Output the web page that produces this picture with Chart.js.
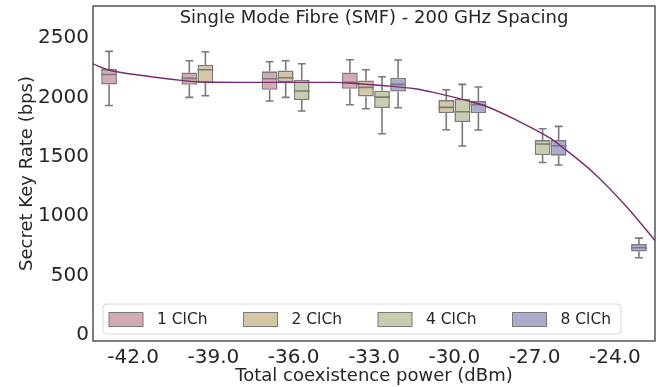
<!DOCTYPE html>
<html>
<head>
<meta charset="utf-8">
<script src="https://cdn.jsdelivr.net/npm/chart.js@4.4.0/dist/chart.umd.min.js"></script>
<style>
  body { margin: 0; background: #fff; }
</style>
</head>
<body>
<canvas id="skrChart" width="662" height="387"></canvas>
<script>
// x categories: total coexistence power (dBm)
var powers = [-42, -39, -36, -33, -30, -27, -24];
var yTicks = [0, 500, 1000, 1500, 2000, 2500];

// box stats per power: [whisker low, q1, median, q3, whisker high]
var clch1 = [
        [1933, 2110, 2194, 2239, 2388],
        [2001, 2107, 2161, 2211, 2309],
        [1970, 2065, 2158, 2220, 2301],
        [1939, 2073, 2127, 2211, 2318],
        null, null, null
];
var clch2 = [
        null,
        [2014, 2121, 2233, 2275, 2385],
        [2001, 2130, 2166, 2228, 2309],
        [1905, 2009, 2085, 2143, 2233],
        [1728, 1869, 1917, 1978, 2065],
        null, null
];
var clch4 = [
        null, null,
        [1886, 1978, 2054, 2149, 2284],
        [1694, 1911, 2003, 2057, 2175],
        [1591, 1793, 1880, 1989, 2110],
        [1453, 1515, 1608, 1641, 1737],
        null
];
var clch8 = [
        null, null, null,
        [1913, 2051, 2110, 2166, 2315],
        [1726, 1869, 1939, 1970, 2088],
        [1431, 1510, 1594, 1641, 1757],
        [651, 704, 735, 766, 816]
];

// fitted curve (x in category-index units)
var fitX = [-0.5, -0.3, 0.14, 0.6, 0.89, 1.39, 2.48, 2.8, 3.14, 3.51, 3.74, 4.16, 4.41, 4.79, 5.2, 5.33, 5.74, 6.16, 6.5];
var fitY = [2283, 2231, 2183, 2144, 2130, 2127, 2127, 2116, 2099, 2073, 2043, 1973, 1922, 1804, 1655, 1590, 1363, 1070, 795];

var seriesNames = ['1 ClCh', '2 ClCh', '4 ClCh', '8 ClCh'];
var seriesStats = [clch1, clch2, clch4, clch8];
var seriesColors = ['#d5a9b1', '#d5c6a6', '#c7cead', '#aaabcf'];

var inkColor = '#262626';
var edgeColor = '#7a7a7a';
var fontFamily = "'DejaVu Sans', sans-serif";

// seaborn-like dodge: 4 hues share 0.8 of each category slot
var hueWidth = 0.8 / seriesNames.length;

function boxPoints(stats, hue) {
        var pts = [];
        stats.forEach(function (s, k) {
                if (!s) return;
                pts.push({ x: k - 0.4 + hueWidth * (hue + 0.5), y: [s[1], s[3]], stats: s });
        });
        return pts;
}

var datasets = seriesNames.map(function (name, i) {
        return {
                type: 'bar',
                label: name,
                data: boxPoints(seriesStats[i], i),
                backgroundColor: seriesColors[i],
                borderColor: edgeColor,
                borderWidth: 1.6,
                borderSkipped: false,
                grouped: false,
                barPercentage: 0.98,
                categoryPercentage: 1
        };
});

datasets.push({
        type: 'line',
        label: 'fit',
        data: fitX.map((x, i) => ({ x: x, y: fitY[i] })),
        borderColor: '#7b2a6e',
        borderWidth: 1.4,
        pointRadius: 0,
        fill: false,
        cubicInterpolationMode: 'monotone',
        order: -1
});

// whiskers, caps and medians on each box
var boxWhiskers = {
        id: 'boxWhiskers',
        afterDatasetDraw: function (chart, args) {
                var ds = chart.data.datasets[args.index];
                if (ds.type !== 'bar') return;
                var y = chart.scales.y;
                var ctx = chart.ctx;
                ctx.save();
                ctx.strokeStyle = edgeColor;
                ctx.lineWidth = 1.6;
                args.meta.data.forEach(function (bar, j) {
                        var s = ds.data[j].stats;
                        var half = bar.width / 2, cap = bar.width / 4;
                        var lo = y.getPixelForValue(s[0]), q1 = y.getPixelForValue(s[1]);
                        var med = y.getPixelForValue(s[2]), q3 = y.getPixelForValue(s[3]);
                        var hi = y.getPixelForValue(s[4]);
                        ctx.beginPath();
                        ctx.moveTo(bar.x, q1); ctx.lineTo(bar.x, lo);
                        ctx.moveTo(bar.x - cap, lo); ctx.lineTo(bar.x + cap, lo);
                        ctx.moveTo(bar.x, q3); ctx.lineTo(bar.x, hi);
                        ctx.moveTo(bar.x - cap, hi); ctx.lineTo(bar.x + cap, hi);
                        ctx.moveTo(bar.x - half, med); ctx.lineTo(bar.x + half, med);
                        ctx.stroke();
                });
                ctx.restore();
        }
};

// frame, in-plot title and in-plot legend
var frameAndLegend = {
        id: 'frameAndLegend',
        afterDraw: function (chart) {
                var ctx = chart.ctx;
                var a = chart.chartArea;
                ctx.save();

                ctx.strokeStyle = '#333333';
                ctx.lineWidth = 1.25;
                ctx.strokeRect(a.left, a.top, a.right - a.left, a.bottom - a.top);

                ctx.fillStyle = inkColor;
                ctx.font = '18px ' + fontFamily;
                ctx.textAlign = 'center';
                ctx.textBaseline = 'alphabetic';
                ctx.fillText('Single Mode Fibre (SMF) - 200 GHz Spacing', (a.left + a.right) / 2, a.top + 17);

                // legend box
                var lx = a.left + 10, ly = a.bottom - 37, lw = 518, lh = 30;
                ctx.beginPath();
                ctx.roundRect(lx, ly, lw, lh, 4);
                ctx.fillStyle = 'rgba(255,255,255,0.8)';
                ctx.fill();
                ctx.strokeStyle = '#d6d6d6';
                ctx.lineWidth = 1;
                ctx.stroke();

                ctx.font = '15.5px ' + fontFamily;
                ctx.textAlign = 'left';
                ctx.textBaseline = 'middle';
                seriesNames.forEach(function (name, i) {
                        var px = lx + 6 + i * 134.5;
                        ctx.fillStyle = seriesColors[i];
                        ctx.fillRect(px, ly + 8.5, 34, 14);
                        ctx.strokeStyle = edgeColor;
                        ctx.lineWidth = 1;
                        ctx.strokeRect(px, ly + 8.5, 34, 14);
                        ctx.fillStyle = inkColor;
                        ctx.fillText(name, px + 48, ly + 16);
                });
                ctx.restore();
        }
};

var skrConfig = {
        type: 'bar',
        data: { datasets: datasets },
        options: {
                responsive: false,
                animation: false,
                devicePixelRatio: 1,
                layout: { padding: { top: 6, right: 7, left: 0, bottom: 0 } },
                plugins: {
                        legend: { display: false },
                        tooltip: { enabled: false }
                },
                scales: {
                        x: {
                                type: 'linear',
                                min: -0.5,
                                max: powers.length - 0.5,
                                offset: false,
                                grid: { display: false, drawTicks: false },
                                border: { display: false },
                                afterBuildTicks: function (scale) {
                                        scale.ticks = powers.map((p, k) => ({ value: k }));
                                },
                                ticks: {
                                        color: inkColor,
                                        font: { family: fontFamily, size: 20 },
                                        padding: 5,
                                        maxRotation: 0,
                                        autoSkip: false,
                                        callback: function (value) {
                                                return powers[value].toFixed(1);
                                        }
                                },
                                title: {
                                        display: true,
                                        text: 'Total coexistence power (dBm)',
                                        color: inkColor,
                                        font: { family: fontFamily, size: 18 },
                                        padding: { top: 0, bottom: 0 }
                                },
                                afterFit: function (scale) {
                                        scale.height = 46;
                                        scale.paddingLeft = 0;
                                        scale.paddingRight = 0;
                                }
                        },
                        y: {
                                type: 'linear',
                                min: -50,
                                max: 2770,
                                grid: { display: false, drawTicks: false },
                                border: { display: false },
                                afterBuildTicks: function (scale) {
                                        scale.ticks = yTicks.map(v => ({ value: v }));
                                },
                                ticks: {
                                        color: inkColor,
                                        font: { family: fontFamily, size: 20 },
                                        padding: 4,
                                        callback: function (value) {
                                                return String(value);
                                        }
                                },
                                title: {
                                        display: true,
                                        text: 'Secret Key Rate (bps)',
                                        color: inkColor,
                                        font: { family: fontFamily, size: 18 },
                                        padding: { top: 17, bottom: 0 }
                                },
                                afterFit: function (scale) {
                                        scale.width = 93;
                                        scale.paddingTop = 0;
                                        scale.paddingBottom = 0;
                                }
                        }
                }
        },
        plugins: [boxWhiskers, frameAndLegend]
};

var ctx = document.getElementById('skrChart').getContext('2d');
var skrChart = new Chart(ctx, skrConfig);
</script>
</body>
</html>
